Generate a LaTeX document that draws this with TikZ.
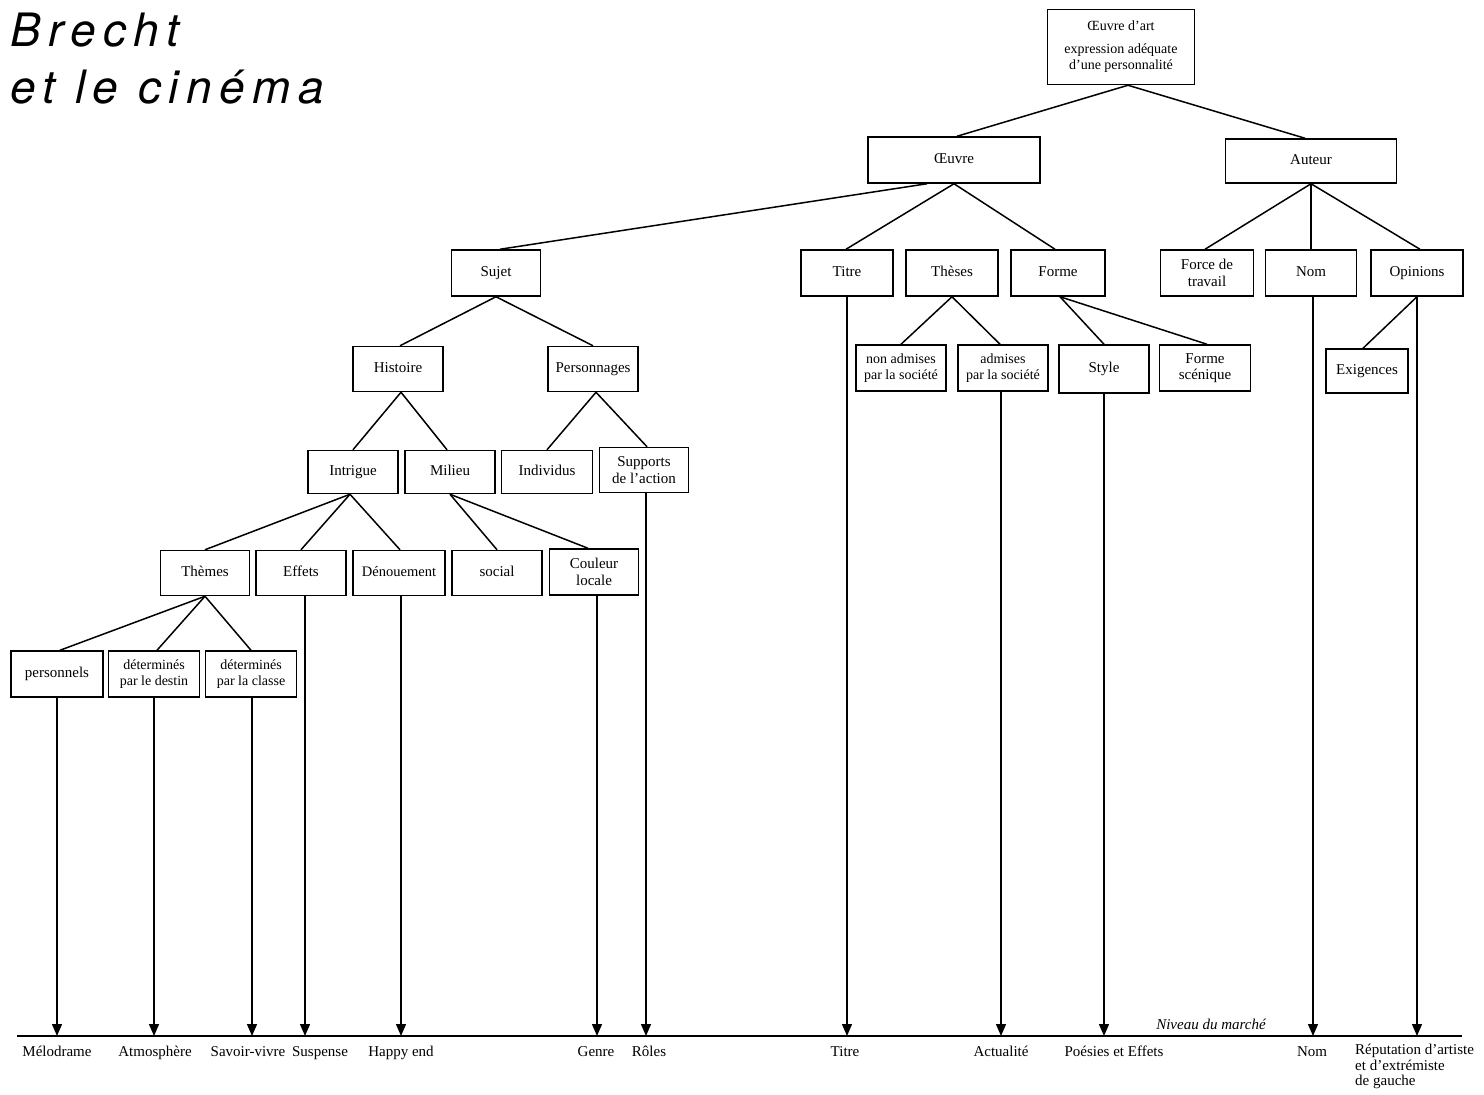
\documentclass[tikz,border=0pt]{standalone}
\usepackage{fontspec}
\setmainfont{Liberation Serif}
\newfontfamily\titlefont[LetterSpace=16]{TeX Gyre Heros}
\usetikzlibrary{arrows.meta}
\tikzset{
  box/.style={draw, line width=1.5pt, inner sep=1pt, align=center, fill=white,
    font=\fontsize{15}{16.5}\selectfont},
  bx/.style 2 args={box, minimum width=#1, minimum height=#2},
  one/.style={text height=0.8em, text depth=0.1em},
  link/.style={line width=1.5pt},
  drop/.style={line width=1.4pt, -{Triangle[length=12pt,width=10pt]}},
  lab/.style={font=\fontsize{15}{15.5}\selectfont, inner sep=0pt, anchor=base},
}
\begin{document}
\begin{tikzpicture}[x=1pt,y=-1pt]
\useasboundingbox (0,0) rectangle (1484,1095);
% title
\node[anchor=base west, inner sep=0pt, font=\titlefont\itshape\fontsize{46}{46}\selectfont] (t1) at (10,46) {Brecht};
\node[anchor=base west, inner sep=0pt, font=\titlefont\itshape\fontsize{46}{46}\selectfont] (t2) at (10,103) {et le cinéma};
% boxes
\node[bx={147}{75}, font=\fontsize{14}{16}\selectfont] (art) at (1121,47) {Œuvre d'art\\[7pt]expression adéquate\\d'une personnalité};
\node[bx={172}{46}, one] (oeuvre) at (954,160) {Œuvre};
\node[bx={171}{44}, one] (auteur) at (1311,161) {Auteur};
\node[bx={89}{46}, one] (sujet) at (496,273) {Sujet};
\node[bx={92}{46}, one] (titre) at (847,273) {Titre};
\node[bx={92}{46}, one] (theses) at (952,273) {Thèses};
\node[bx={94}{46}, one] (forme) at (1058,273) {Forme};
\node[bx={93}{46}] (force) at (1207,273) {Force de\\travail};
\node[bx={91}{46}, one] (nom) at (1311,273) {Nom};
\node[bx={92}{46}, one] (opinions) at (1417,273) {Opinions};
\node[bx={90}{45}, one] (histoire) at (398,369) {Histoire};
\node[bx={90}{45}, one] (perso) at (593,369) {Personnages};
\node[bx={90}{46}, font=\fontsize{14}{15.5}\selectfont] (nonadm) at (901,368) {non admises\\par la société};
\node[bx={90}{46}, font=\fontsize{14}{15.5}\selectfont] (adm) at (1003,368) {admises\\par la société};
\node[bx={90}{48}, one] (style) at (1104,369) {Style};
\node[bx={91}{46}] (fscen) at (1205,368) {Forme\\scénique};
\node[bx={82}{44}, one] (exig) at (1367,371) {Exigences};
\node[bx={90}{43}, one] (intrigue) at (353,472) {Intrigue};
\node[bx={90}{43}, one] (milieu) at (450,472) {Milieu};
\node[bx={91}{43}, one] (indiv) at (547,472) {Individus};
\node[bx={89}{45}] (supports) at (644,470) {Supports\\de l'action};
\node[bx={89}{45}, one] (themes) at (205,573) {Thèmes};
\node[bx={90}{45}, one] (effets) at (301,573) {Effets};
\node[bx={92}{45}, one, font=\fontsize{14.5}{16}\selectfont] (denouement) at (399,573) {Dénouement};
\node[bx={90}{45}, one] (social) at (497,573) {social};
\node[bx={89}{46}] (couleur) at (594,572) {Couleur\\locale};
\node[bx={92}{46}, one] (personnels) at (57,674) {personnels};
\node[bx={91}{46}, font=\fontsize{14}{16}\selectfont] (destin) at (154,674) {déterminés\\par le destin};
\node[bx={91}{46}, font=\fontsize{14}{16}\selectfont] (classe) at (251,674) {déterminés\\par la classe};
% tree links
\draw[link] ([xshift=7]art.south) -- ([xshift=3]oeuvre.north);
\draw[link] ([xshift=7]art.south) -- ([xshift=-6]auteur.north);
\draw[link] ([xshift=-27]oeuvre.south) -- ([xshift=4]sujet.north);
\draw[link] (oeuvre.south) -- ([xshift=-1]titre.north);
\draw[link] (oeuvre.south) -- ([xshift=-3]forme.north);
\draw[link] (auteur.south) -- ([xshift=-2]force.north);
\draw[link] (auteur.south) -- (nom.north);
\draw[link] (auteur.south) -- ([xshift=3]opinions.north);
\draw[link] (sujet.south) -- ([xshift=2]histoire.north);
\draw[link] (sujet.south) -- (perso.north);
\draw[link] (theses.south) -- (nonadm.north);
\draw[link] (theses.south) -- ([xshift=-3]adm.north);
\draw[link] ([xshift=2]forme.south) -- (style.north);
\draw[link] ([xshift=2]forme.south) -- ([xshift=2]fscen.north);
\draw[link] (opinions.south) -- ([xshift=-4]exig.north);
\draw[link] ([xshift=3]histoire.south) -- (intrigue.north);
\draw[link] ([xshift=3]histoire.south) -- ([xshift=-3]milieu.north);
\draw[link] ([xshift=3]perso.south) -- (indiv.north);
\draw[link] ([xshift=3]perso.south) -- ([xshift=3]supports.north);
\draw[link] ([xshift=-3]intrigue.south) -- (themes.north);
\draw[link] ([xshift=-3]intrigue.south) -- (effets.north);
\draw[link] ([xshift=-3]intrigue.south) -- ([xshift=1]denouement.north);
\draw[link] (milieu.south) -- (social.north);
\draw[link] (milieu.south) -- ([xshift=-6]couleur.north);
\draw[link] (themes.south) -- ([xshift=3]personnels.north);
\draw[link] (themes.south) -- ([xshift=3]destin.north);
\draw[link] (themes.south) -- (classe.north);
% market level
\coordinate (bw) at (17,1036);
\coordinate (be) at (1462,1036);
\draw[line width=1.6pt] (bw) -- (be);
\node[font=\itshape\fontsize{15}{16}\selectfont, inner sep=0pt] (niveau) at (1211,1024) {Niveau du marché};
% drops
\draw[drop] (personnels.south) -- (personnels.south |- bw);
\draw[drop] (destin.south) -- (destin.south |- bw);
\draw[drop] ([xshift=1]classe.south) -- ([xshift=1]classe.south |- bw);
\draw[drop] ([xshift=4]effets.south) -- ([xshift=4]effets.south |- bw);
\draw[drop] ([xshift=2]denouement.south) -- ([xshift=2]denouement.south |- bw);
\draw[drop] ([xshift=3]couleur.south) -- ([xshift=3]couleur.south |- bw);
\draw[drop] ([xshift=2]supports.south) -- ([xshift=2]supports.south |- bw);
\draw[drop] (titre.south) -- (titre.south |- bw);
\draw[drop] ([xshift=-2]adm.south) -- ([xshift=-2]adm.south |- bw);
\draw[drop] (style.south) -- (style.south |- bw);
\draw[drop] ([xshift=2]nom.south) -- ([xshift=2]nom.south |- bw);
\draw[drop] (opinions.south) -- (opinions.south |- bw);
% bottom labels
\node[lab] (l1) at (57,1056) {Mélodrame};
\node[lab] (l2) at (155,1056) {Atmosphère};
\node[lab] (l3) at (248,1056) {Savoir-vivre};
\node[lab] (l4) at (320,1056) {Suspense};
\node[lab] (l5) at (401,1056) {Happy end};
\node[lab] (l6) at (596,1056) {Genre};
\node[lab] (l7) at (649,1056) {Rôles};
\node[lab] (l8) at (845,1056) {Titre};
\node[lab] (l9) at (1001,1056) {Actualité};
\node[lab] (l10) at (1114,1056) {Poésies et Effets};
\node[lab] (l11) at (1312,1056) {Nom};
\node[lab, anchor=north west, align=left] (l12) at (1355,1044) {Réputation d'artiste\\et d'extrémiste\\de gauche};
\end{tikzpicture}
\end{document}
